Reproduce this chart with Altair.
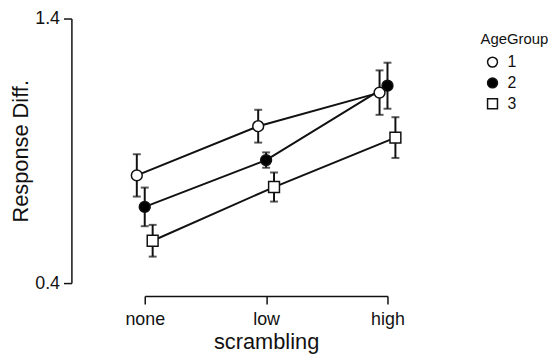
import altair as alt
import pandas as pd

scrambling = ["none", "low", "high"]
age_groups = ["1", "2", "3"]
means_g1 = [0.807, 0.993, 1.120]
means_g2 = [0.688, 0.865, 1.146]
means_g3 = [0.560, 0.763, 0.950]
err_g1 = [0.080, 0.062, 0.084]
err_g2 = [0.073, 0.029, 0.087]
err_g3 = [0.060, 0.055, 0.077]
y_ticks = [0.4, 1.4]

rows = []
for g, means, errs in zip(age_groups, [means_g1, means_g2, means_g3], [err_g1, err_g2, err_g3]):
    for s, m, e in zip(scrambling, means, errs):
        rows.append({"scrambling": s, "AgeGroup": g, "mean": m, "err": e})
df = pd.DataFrame(rows)

FONT = "Liberation Sans"
INK = "#111111"

x_enc = alt.X("scrambling:N", sort=scrambling,
              scale=alt.Scale(type="point", padding=0),
              axis=alt.Axis(title="scrambling", labelAngle=0, offset=13, tickSize=8,
                            labelFontSize=18, titleFontSize=22, titleFontWeight="normal",
                            labelPadding=7, titlePadding=3, domainColor=INK, tickColor=INK,
                            domainWidth=1.5, tickWidth=1.5, labelColor=INK, titleColor=INK))
xo_enc = alt.XOffset("AgeGroup:N", sort=age_groups,
                     scale=alt.Scale(type="point", domain=age_groups, range=[-8, 8], padding=0))
y_scale = alt.Scale(domain=[0.4, 1.4], nice=False, zero=False)
y_axis = alt.Axis(title="Response Diff.", values=y_ticks, format=".1f", offset=74, tickSize=8,
                  labelFontSize=18, titleFontSize=22, titleFontWeight="normal",
                  labelPadding=4, titlePadding=2, domainColor=INK, tickColor=INK,
                  domainWidth=1.5, tickWidth=1.5, labelColor=INK, titleColor=INK, grid=False)

base = alt.Chart(df).transform_calculate(
    lo="datum.mean - datum.err", hi="datum.mean + datum.err"
)

lines = base.mark_line(color=INK, strokeWidth=2).encode(
    x=x_enc, xOffset=xo_enc,
    y=alt.Y("mean:Q", scale=y_scale, axis=y_axis),
    detail="AgeGroup:N",
)

rules = base.mark_rule(color=INK, strokeWidth=2).encode(
    x=x_enc, xOffset=xo_enc,
    y=alt.Y("lo:Q", scale=y_scale), y2="hi:Q",
)
caps_lo = base.mark_tick(color=INK, thickness=2, size=8, orient="horizontal").encode(
    x=x_enc, xOffset=xo_enc, y=alt.Y("lo:Q", scale=y_scale),
)
caps_hi = base.mark_tick(color=INK, thickness=2, size=8, orient="horizontal").encode(
    x=x_enc, xOffset=xo_enc, y=alt.Y("hi:Q", scale=y_scale),
)

legend = alt.Legend(title="AgeGroup")
points = base.mark_point(filled=True, strokeWidth=1.5, opacity=1, size=120).encode(
    x=x_enc, xOffset=xo_enc,
    y=alt.Y("mean:Q", scale=y_scale),
    shape=alt.Shape("AgeGroup:N", sort=age_groups,
                    scale=alt.Scale(domain=age_groups, range=["circle", "circle", "square"]),
                    legend=legend),
    fill=alt.Fill("AgeGroup:N", sort=age_groups,
                  scale=alt.Scale(domain=age_groups, range=["white", "black", "white"]),
                  legend=legend),
    stroke=alt.Stroke("AgeGroup:N", sort=age_groups,
                      scale=alt.Scale(domain=age_groups, range=[INK, INK, INK]),
                      legend=legend),
)

chart = alt.layer(lines, rules, caps_lo, caps_hi, points).properties(
    width=245, height=267,
    autosize=alt.AutoSizeParams(type="none"),
    padding={"left": 138, "top": 9, "right": 162, "bottom": 74},
).configure(font=FONT).configure_view(stroke="transparent").configure_legend(
    orient="none", legendX=339, legendY=14, padding=0,
    titleFontSize=15, titleFontWeight="normal", titleColor=INK, titlePadding=7,
    labelFontSize=16, labelColor=INK, labelOffset=7, rowPadding=5,
    symbolSize=100, symbolStrokeWidth=1.5, symbolOffset=4,
)

chart.save("out.html", embed_options={"renderer": "svg", "actions": False})
